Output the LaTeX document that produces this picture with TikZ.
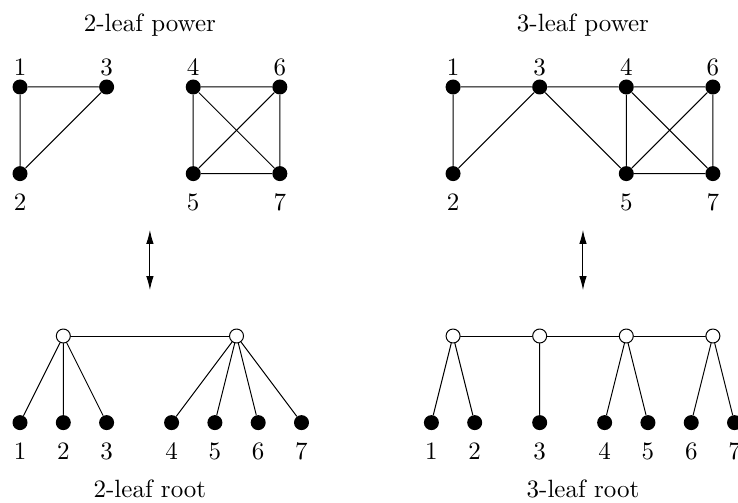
\documentclass[tikz,border=0pt]{standalone}
\usetikzlibrary{arrows.meta}

\tikzset{
  vtx/.style={circle,fill=black,inner sep=0pt,minimum size=6pt},
  hub/.style={circle,draw,fill=white,inner sep=0pt,minimum size=5.6pt},
  every label/.style={inner sep=1pt},
  up/.style={label={above:#1}},
  dn/.style={label={[label distance=3.5pt]below:#1}},
}

\begin{document}
\begin{tikzpicture}[x=17.32pt,y=17.32pt,line cap=round,line join=round,>={Latex[length=5.6pt,width=3pt]}]
    \useasboundingbox (-0.462,2.009) rectangle (16.58,-9.584);

    % titles
    \node[anchor=base] (t1) at (3,1.28) {2-leaf power};
    \node[anchor=base] (t2) at (13,1.28) {3-leaf power};
    \node[anchor=base] (t3) at (3,-9.47) {2-leaf root};
    \node[anchor=base] (t4) at (13,-9.47) {3-leaf root};

    % 2-leaf power
    \node[vtx,up=1] (a1) at (0,0) {};
    \node[vtx,up=3] (a3) at (2,0) {};
    \node[vtx,dn=2] (a2) at (0,-2) {};
    \node[vtx,up=4] (a4) at (4,0) {};
    \node[vtx,up=6] (a6) at (6,0) {};
    \node[vtx,dn=5] (a5) at (4,-2) {};
    \node[vtx,dn=7] (a7) at (6,-2) {};
    \draw (a1) -- (a3) -- (a2) -- (a1);
    \draw (a4) -- (a6) -- (a7) -- (a5) -- (a4) -- (a7);
    \draw (a6) -- (a5);

    % 3-leaf power
    \node[vtx,up=1] (b1) at (10,0) {};
    \node[vtx,up=3] (b3) at (12,0) {};
    \node[vtx,up=4] (b4) at (14,0) {};
    \node[vtx,up=6] (b6) at (16,0) {};
    \node[vtx,dn=2] (b2) at (10,-2) {};
    \node[vtx,dn=5] (b5) at (14,-2) {};
    \node[vtx,dn=7] (b7) at (16,-2) {};
    \draw (b1) -- (b3) -- (b2) -- (b1);
    \draw (b3) -- (b4) -- (b6) -- (b7) -- (b5) -- (b4) -- (b7);
    \draw (b3) -- (b5) -- (b6);

    % arrows
    \coordinate (u1) at (3,-3.3);
    \coordinate (d1) at (3,-4.69);
    \coordinate (u2) at (13,-3.3);
    \coordinate (d2) at (13,-4.69);
    \draw[<->] (u1) -- (d1);
    \draw[<->] (u2) -- (d2);

    % 2-leaf root
    \node[vtx,dn=1] (l1) at (0,-7.75) {};
    \node[vtx,dn=2] (l2) at (1,-7.75) {};
    \node[vtx,dn=3] (l3) at (2,-7.75) {};
    \node[vtx,dn=4] (l4) at (3.5,-7.75) {};
    \node[vtx,dn=5] (l5) at (4.5,-7.75) {};
    \node[vtx,dn=6] (l6) at (5.5,-7.75) {};
    \node[vtx,dn=7] (l7) at (6.5,-7.75) {};
    \node[hub] (p1) at (1,-5.75) {};
    \node[hub] (p2) at (5,-5.75) {};
    \draw (p1) -- (p2);
    \draw (p1) -- (l1) (p1) -- (l2) (p1) -- (l3);
    \draw (p2) -- (l4) (p2) -- (l5) (p2) -- (l6) (p2) -- (l7);

    % 3-leaf root
    \node[vtx,dn=1] (m1) at (9.5,-7.75) {};
    \node[vtx,dn=2] (m2) at (10.5,-7.75) {};
    \node[vtx,dn=3] (m3) at (12,-7.75) {};
    \node[vtx,dn=4] (m4) at (13.5,-7.75) {};
    \node[vtx,dn=5] (m5) at (14.5,-7.75) {};
    \node[vtx,dn=6] (m6) at (15.5,-7.75) {};
    \node[vtx,dn=7] (m7) at (16.5,-7.75) {};
    \node[hub] (q1) at (10,-5.75) {};
    \node[hub] (q2) at (12,-5.75) {};
    \node[hub] (q3) at (14,-5.75) {};
    \node[hub] (q4) at (16,-5.75) {};
    \draw (q1) -- (q2) -- (q3) -- (q4);
    \draw (q1) -- (m1) (q1) -- (m2) (q2) -- (m3);
    \draw (q3) -- (m4) (q3) -- (m5) (q4) -- (m6) (q4) -- (m7);
  \end{tikzpicture}
\end{document}
